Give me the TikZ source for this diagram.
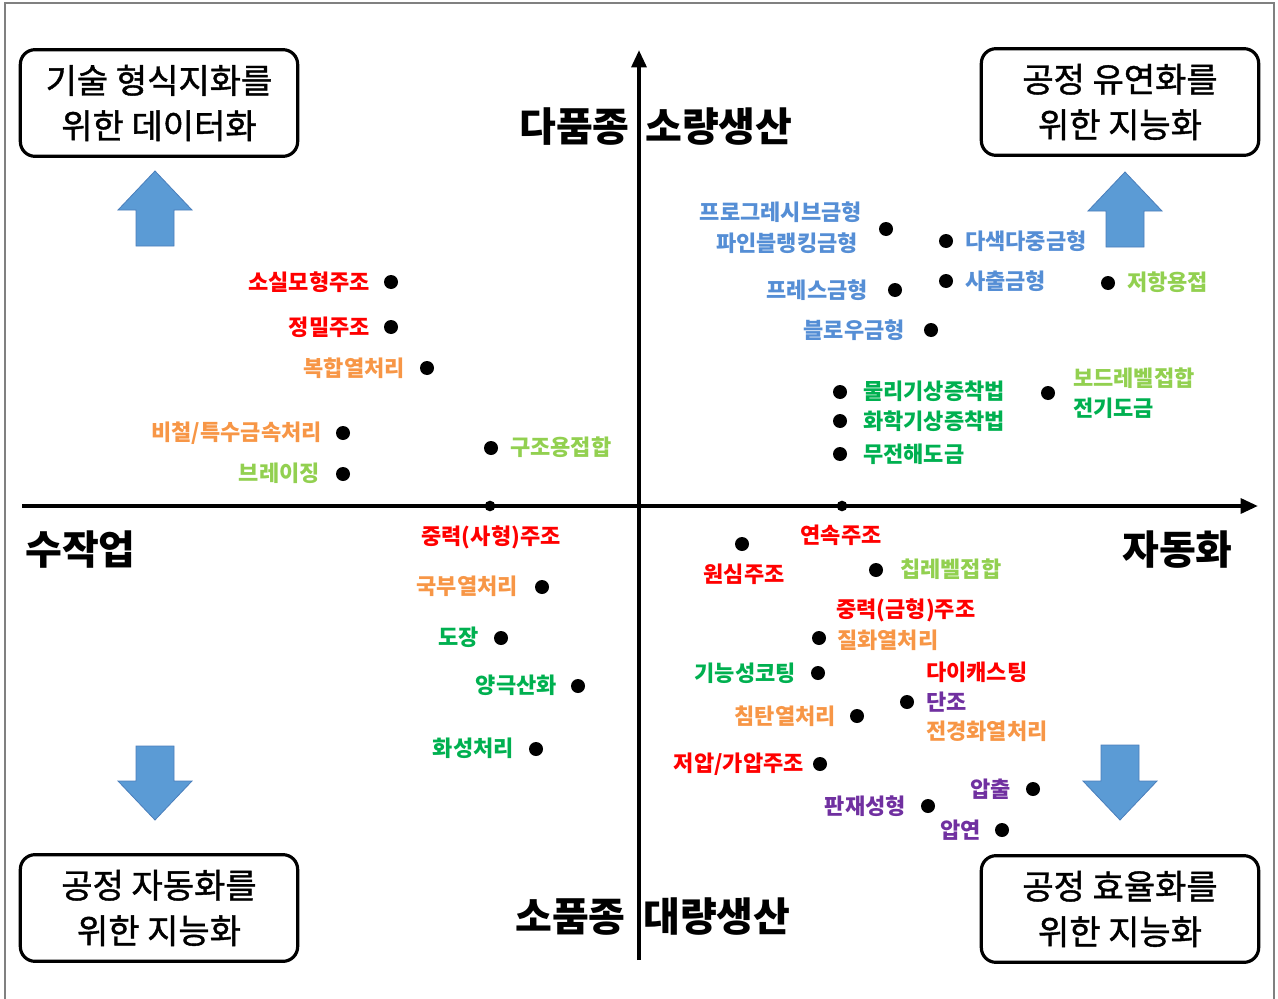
\documentclass[tikz,border=0pt]{standalone}
\usepackage{fontspec}
\setmainfont{Noto Sans CJK KR}
\newfontfamily\boxfont[FakeBold=1.2]{Noto Sans CJK KR}
\usetikzlibrary{arrows.meta}
\definecolor{cred}{HTML}{FF0000}
\definecolor{corange}{HTML}{F79646}
\definecolor{cyg}{HTML}{92D050}
\definecolor{cgreen}{HTML}{00B050}
\definecolor{cblue}{HTML}{558ED5}
\definecolor{cpurple}{HTML}{7030A0}
\definecolor{arrowfill}{HTML}{5B9BD5}
\definecolor{arrowedge}{HTML}{4A7EBB}
\tikzset{
  dot/.style={circle,fill=black,inner sep=0pt,minimum size=10.5pt},
  lbl/.style={font=\fontsize{16.5}{19}\selectfont\bfseries,inner sep=0pt},
  qbox/.style={draw,line width=2.4pt,rounded corners=11pt,minimum width=208pt,minimum height=80pt,align=center,font=\boxfont\fontsize{25.5}{34}\selectfont},
  axlbl/.style={font=\fontsize{30}{32}\selectfont\bfseries,inner sep=0pt},
  axisline/.style={line width=3pt,-{Triangle[length=13pt,width=11pt]}},
  bigarrow/.style={fill=arrowfill,draw=arrowedge,line width=0.6pt}
}
\begin{document}
\begin{tikzpicture}[x=0.75pt,y=-0.75pt]
\useasboundingbox (0,0) rectangle (1278,999);
% frame
\draw[gray,line width=0.8pt] (5,999) -- (5,3) -- (1274,3) -- (1274,999);
% axes
\coordinate (xs) at (22,506);
\coordinate (xe) at (1258,506);
\coordinate (ys) at (639,960);
\coordinate (ye) at (639,50);
\draw[axisline] (xs) -- (xe);
\draw[axisline] (ys) -- (ye);
% axis labels
\node[axlbl,anchor=east] (ylt1) at (630,127) {다품종};
\node[axlbl,anchor=west] (ylt2) at (645,127) {소량생산};
\node[axlbl,anchor=east] (ylb1) at (626,917) {소품종};
\node[axlbl,anchor=west] (ylb2) at (643,917) {대량생산};
\node[axlbl,anchor=west] (xll) at (25,550) {수작업};
\node[axlbl,anchor=east] (xlr) at (1233,550) {자동화};
% boxes
\node[qbox] (btl) at (159,103) {기술 형식지화를\\위한 데이터화};
\node[qbox] (btr) at (1120,102) {공정 유연화를\\위한 지능화};
\node[qbox] (bbl) at (159,908) {공정 자동화를\\위한 지능화};
\node[qbox] (bbr) at (1120,909) {공정 효율화를\\위한 지능화};
% blue arrows
\draw[bigarrow] (155,171) -- (192,210) -- (174,210) -- (174,246) -- (136,246) -- (136,210) -- (118,210) -- cycle;
\draw[bigarrow] (1125,172) -- (1162,211) -- (1144,211) -- (1144,247) -- (1106,247) -- (1106,211) -- (1088,211) -- cycle;
\draw[bigarrow] (155,820) -- (192,781) -- (174,781) -- (174,746) -- (136,746) -- (136,781) -- (118,781) -- cycle;
\draw[bigarrow] (1120,820) -- (1157,781) -- (1139,781) -- (1139,745) -- (1101,745) -- (1101,781) -- (1083,781) -- cycle;
% ---------- upper left ----------
\node[dot] (p1) at (391,282) {};
\node[lbl,cred,anchor=east] (l1) at (370,282) {소실모형주조};
\node[dot] (p2) at (391,327) {};
\node[lbl,cred,anchor=east] (l2) at (370,327) {정밀주조};
\node[dot] (p3) at (427,368) {};
\node[lbl,corange,anchor=east] (l3) at (405,368) {복합열처리};
\node[dot] (p4) at (343,433) {};
\node[lbl,corange,anchor=east] (l4) at (322,433) {비철/특수금속처리};
\node[dot] (p5) at (343,474) {};
\node[lbl,cyg,anchor=east] (l5) at (320,473) {브레이징};
\node[dot] (p6) at (491,448) {};
\node[lbl,cyg,anchor=west] (l6) at (510,447) {구조용접합};
% ---------- upper right ----------
\node[dot] (p7) at (886,229) {};
\node[lbl,cblue,anchor=east] (l7a) at (862,212) {프로그레시브금형};
\node[lbl,cblue,anchor=east] (l7b) at (858,243) {파인블랭킹금형};
\node[dot] (p8) at (946,241) {};
\node[lbl,cblue,anchor=west] (l8) at (965,241) {다색다중금형};
\node[dot] (p9) at (946,281) {};
\node[lbl,cblue,anchor=west] (l9) at (965,281) {사출금형};
\node[dot] (p10) at (1108,283) {};
\node[lbl,cyg,anchor=west] (l10) at (1127,282) {저항용접};
\node[dot] (p11) at (895,290) {};
\node[lbl,cblue,anchor=east] (l11) at (868,290) {프레스금형};
\node[dot] (p12) at (931,330) {};
\node[lbl,cblue,anchor=east] (l12) at (905,330) {블로우금형};
\node[dot] (p13) at (840,392) {};
\node[lbl,cgreen,anchor=west] (l13) at (863,391) {물리기상증착법};
\node[dot] (p14) at (840,421) {};
\node[lbl,cgreen,anchor=west] (l14) at (863,421) {화학기상증착법};
\node[dot] (p15) at (840,454) {};
\node[lbl,cgreen,anchor=west] (l15) at (863,454) {무전해도금};
\node[dot] (p16) at (1048,393) {};
\node[lbl,cyg,anchor=west] (l16a) at (1073,378) {보드레벨접합};
\node[lbl,cgreen,anchor=west] (l16b) at (1073,408) {전기도금};
% ---------- lower left ----------
\node[dot,minimum size=8pt] (p17) at (490,506) {};
\node[lbl,cred] (l17) at (491,537) {중력(사형)주조};
\node[dot] (p18) at (542,587) {};
\node[lbl,corange,anchor=east] (l18) at (518,586) {국부열처리};
\node[dot] (p19) at (501,638) {};
\node[lbl,cgreen,anchor=east] (l19) at (479,637) {도장};
\node[dot] (p20) at (578,686) {};
\node[lbl,cgreen,anchor=east] (l20) at (557,685) {양극산화};
\node[dot] (p21) at (536,749) {};
\node[lbl,cgreen,anchor=east] (l21) at (514,748) {화성처리};
% ---------- lower right ----------
\node[dot,minimum size=8pt] (p22) at (842,506) {};
\node[lbl,cred] (l22) at (841,535) {연속주조};
\node[dot] (p23) at (742,544) {};
\node[lbl,cred] (l23) at (744,574) {원심주조};
\node[dot] (p24) at (876,570) {};
\node[lbl,cyg,anchor=west] (l24) at (900,569) {칩레벨접합};
\node[lbl,cred,anchor=west] (l25a) at (836,610) {중력(금형)주조};
\node[dot] (p25) at (819,638) {};
\node[lbl,corange,anchor=west] (l25b) at (837,640) {질화열처리};
\node[dot] (p26) at (818,673) {};
\node[lbl,cgreen,anchor=east] (l26) at (796,673) {기능성코팅};
\node[lbl,cred,anchor=west] (l27a) at (926,672) {다이캐스팅};
\node[dot] (p27) at (907,702) {};
\node[lbl,cpurple,anchor=west] (l27b) at (926,702) {단조};
\node[lbl,corange,anchor=west] (l27c) at (926,731) {전경화열처리};
\node[dot] (p28) at (857,716) {};
\node[lbl,corange,anchor=east] (l28) at (836,716) {침탄열처리};
\node[dot] (p29) at (820,764) {};
\node[lbl,cred,anchor=east] (l29) at (804,764) {저압/가압주조};
\node[dot] (p30) at (1033,789) {};
\node[lbl,cpurple,anchor=east] (l30) at (1011,789) {압출};
\node[dot] (p31) at (928,806) {};
\node[lbl,cpurple,anchor=east] (l31) at (906,806) {판재성형};
\node[dot] (p32) at (1002,830) {};
\node[lbl,cpurple,anchor=east] (l32) at (981,830) {압연};
\end{tikzpicture}
\end{document}
